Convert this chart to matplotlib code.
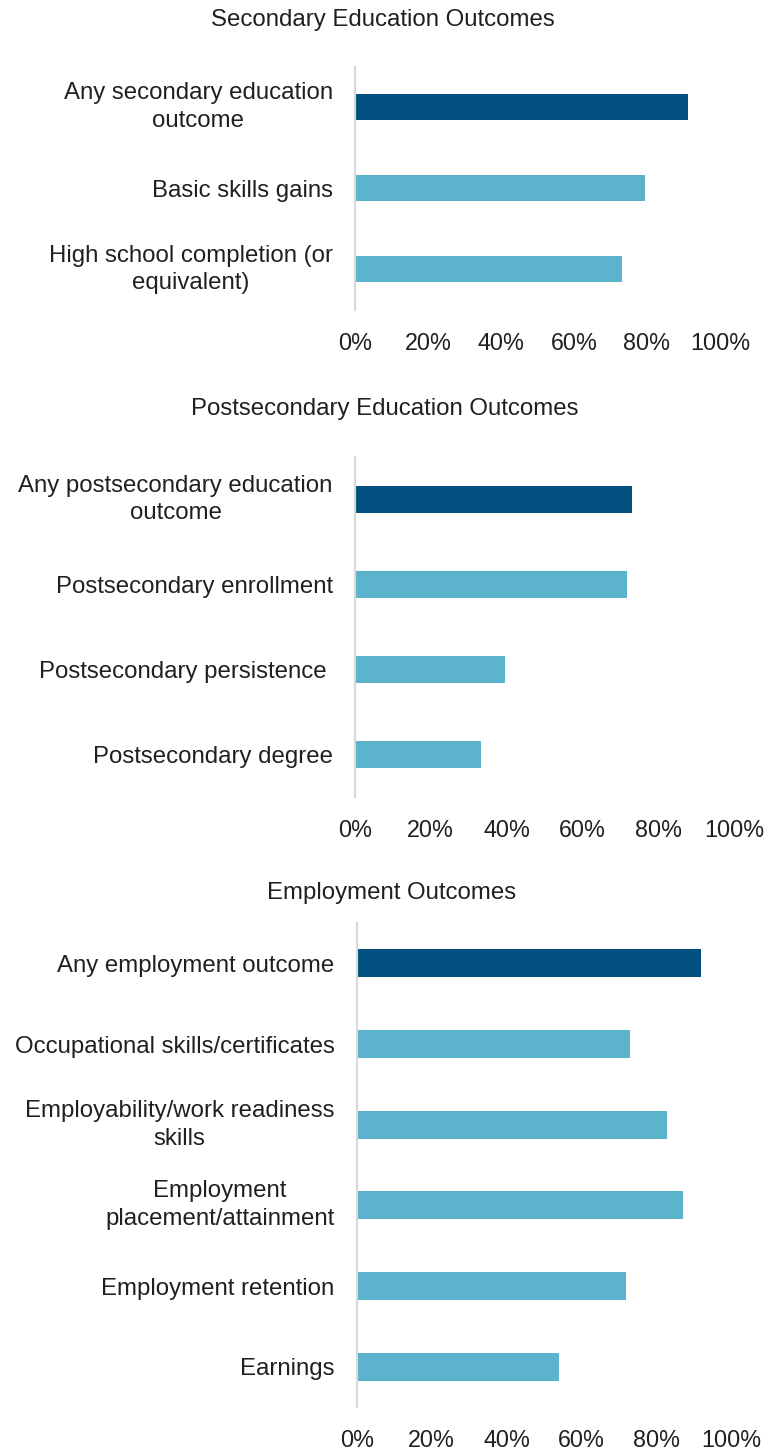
import matplotlib
matplotlib.use("Agg")
import matplotlib.pyplot as plt
import numpy as np

plt.rcParams['font.family'] = ['Liberation Sans', 'DejaVu Sans']

# share of programs reporting each outcome (percent)
sec_labels = ['Any secondary education\noutcome', 'Basic skills gains',
              'High school completion (or\nequivalent)']
sec_values = [91.2, 79.5, 73.1]

post_labels = ['Any postsecondary education\noutcome', 'Postsecondary enrollment',
               'Postsecondary persistence ', 'Postsecondary degree']
post_values = [73.1, 71.8, 39.7, 33.2]

emp_labels = ['Any employment outcome', 'Occupational skills/certificates',
              'Employability/work readiness\nskills', 'Employment\nplacement/attainment',
              'Employment retention', 'Earnings']
emp_values = [91.8, 72.8, 82.8, 86.9, 71.8, 53.9]

ticks = [0, 20, 40, 60, 80, 100]
tick_labels = ['%d%%' % t for t in ticks]

dark = '#02507f'
light = '#5bb3ce'
txt = '#231f20'

W, H = 767, 1455
fig = plt.figure(figsize=(W / 100, H / 100), dpi=100)


def px_axes(x0, x1, y0, y1):
    return fig.add_axes([x0 / W, 1 - y1 / H, (x1 - x0) / W, (y1 - y0) / H])


def panel(ax, labels, values, bh):
    n = len(labels)
    y = np.arange(n)
    colors = [dark] + [light] * (n - 1)
    ax.barh(y, values, height=bh, color=colors)
    ax.set_ylim(n - 0.5, -0.5)
    ax.set_xlim(0, 100)
    ax.set_yticks(y)
    ax.set_yticklabels(labels, fontsize=17.3, color=txt,
                       multialignment='center', linespacing=1.34)
    # wrapped labels sit centred on the bar as a block
    for t in ax.get_yticklabels():
        if '\n' in t.get_text():
            t.set_verticalalignment('center')
    ax.set_xticks(ticks)
    ax.set_xticklabels(tick_labels, fontsize=16.8, color=txt)
    ax.tick_params(axis='both', length=0)
    ax.tick_params(axis='x', pad=16)
    ax.tick_params(axis='y', pad=16)
    for s in ['top', 'right', 'bottom']:
        ax.spines[s].set_visible(False)
    ax.spines['left'].set_color('#d9d9d9')
    ax.spines['left'].set_linewidth(1.6)


ax1 = px_axes(355, 720, 66.7, 310)
panel(ax1, sec_labels, sec_values, 0.32)
ax2 = px_axes(355, 734, 457, 797)
panel(ax2, post_labels, post_values, 0.31)
ax3 = px_axes(356.7, 731.7, 923, 1407)
panel(ax3, emp_labels, emp_values, 0.35)

fig.text(382.5 / W, 1 - 20 / H, 'Secondary Education Outcomes', fontsize=17.3,
         color=txt, ha='center', va='center')
fig.text(385 / W, 1 - 409 / H, 'Postsecondary Education Outcomes', fontsize=17.3,
         color=txt, ha='center', va='center')
fig.text(392 / W, 1 - 893 / H, 'Employment Outcomes', fontsize=17.3,
         color=txt, ha='center', va='center')

fig.savefig('out.png', dpi=100, facecolor='white')
plt.close(fig)
